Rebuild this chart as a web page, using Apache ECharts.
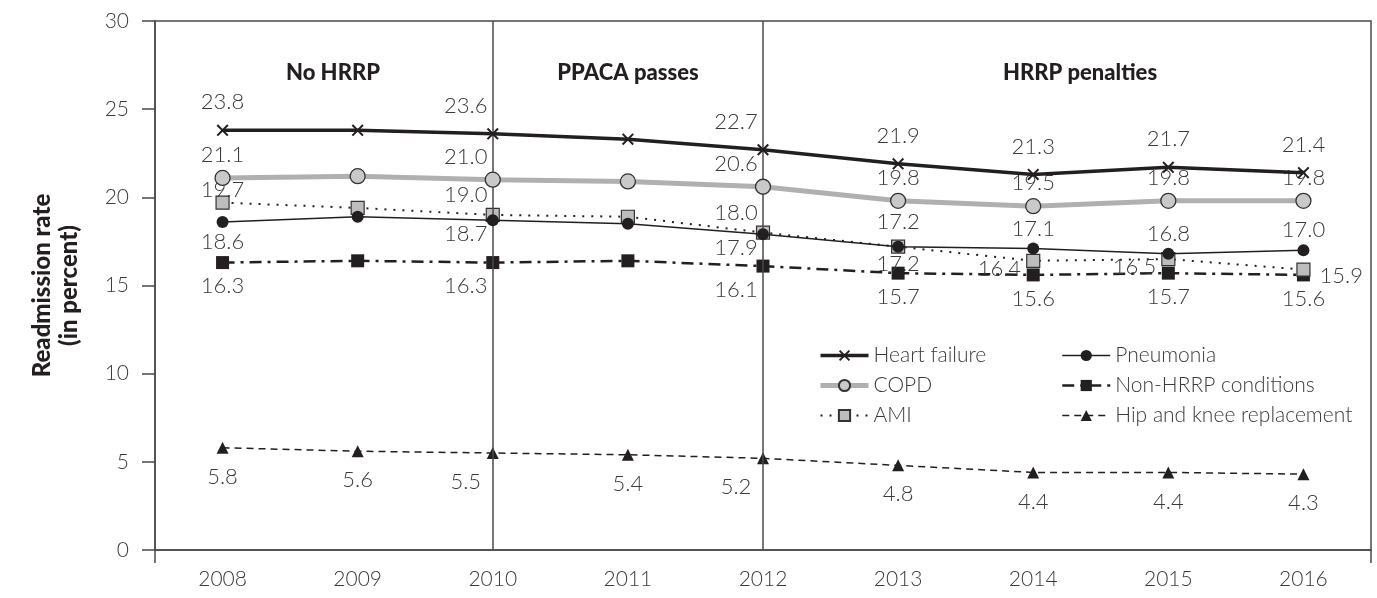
<!DOCTYPE html>
<html>
<head>
<meta charset="utf-8">
<script src="https://cdn.jsdelivr.net/npm/echarts@6/dist/echarts.min.js"></script>
<style>
html,body{margin:0;padding:0;background:#fff;}
#chart{width:1377px;height:598px;}
</style>
</head>
<body>
<div id="chart"></div>
<script>
// ---- data ----
const years = ['2008','2009','2010','2011','2012','2013','2014','2015','2016'];
const heartFailure = [23.8, 23.8, 23.6, 23.3, 22.7, 21.9, 21.3, 21.7, 21.4];
const copd         = [21.1, 21.2, 21.0, 20.9, 20.6, 19.8, 19.5, 19.8, 19.8];
const ami          = [19.7, 19.4, 19.0, 18.9, 18.0, 17.2, 16.4, 16.5, 15.9];
const pneumonia    = [18.6, 18.9, 18.7, 18.5, 17.9, 17.2, 17.1, 16.8, 17.0];
const nonHrrp      = [16.3, 16.4, 16.3, 16.4, 16.1, 15.7, 15.6, 15.7, 15.6];
const hipKnee      = [5.8, 5.6, 5.5, 5.4, 5.2, 4.8, 4.4, 4.4, 4.3];
const periods      = ['No HRRP', 'PPACA passes', 'HRRP penalties'];
const markerYears  = ['2010', '2012'];
const yTicks = {min: 0, max: 30, interval: 5};

// label placement per point (t=top, tl=top-left, b=bottom, bl=bottom-left, l=left, r=right, ''=none)
const hfPlace   = ['t','','tl','','tl','t','t','t','t'];
const copdPlace = ['t','','tl','','tl','t','t','t','t'];
const amiPlace  = ['t','','tl','','tl','b','l','l','r'];
const pneuPlace = ['b','','bl','','bl','t','t','t','t'];
const nonPlace  = ['b','','bl','','bl','b','b','b','b'];
const hipPlace  = ['b','b','bl','b','bl','b','b','b','b'];

const FONT = 'Lato, "Open Sans", sans-serif';
const TXT = '#3a3a3a';
const BLACK = '#231f20';
const AXIS = '#4a4a4a';

function build(values, place, dist, extra) {
  extra = extra || {};
  return values.map((v, i) => {
    const p = place[i];
    if (!p) return {value: v, label: {show: false}};
    const lab = {show: true, distance: dist};
    if (p === 't') lab.position = 'top';
    if (p === 'tl') { lab.position = 'top'; lab.offset = [-27, 0]; }
    if (p === 'b') lab.position = 'bottom';
    if (p === 'bl') { lab.position = 'bottom'; lab.offset = [-27, 0]; }
    if (p === 'l') { lab.position = 'left'; lab.distance = 5; lab.offset = [0, 8]; }
    if (p === 'r') { lab.position = 'right'; lab.distance = 9; lab.offset = [0, 6]; }
    if (extra[i]) Object.assign(lab, extra[i]);
    return {value: v, label: lab};
  });
}

const xPath = 'path://M0,1.2L1.2,0L5,3.8L8.8,0L10,1.2L6.2,5L10,8.8L8.8,10L5,6.2L1.2,10L0,8.8L3.8,5Z';

const labelBase = {fontFamily: FONT, fontSize: 22, fontWeight: 300, color: TXT, formatter: p => p.value.toFixed(1)};

const chart = echarts.init(document.getElementById('chart'), null, {renderer: 'canvas'});
chart.setOption({
  animation: false,
  backgroundColor: '#fff',
  textStyle: {fontFamily: FONT},
  grid: {left: 155, right: 6, top: 21, bottom: 48, show: true, borderColor: AXIS, borderWidth: 1.5, backgroundColor: 'transparent'},
  graphic: [
    {type: 'text', x: 333, y: 73, style: {text: periods[0], font: '900 22px ' + FONT, fill: BLACK, align: 'center', verticalAlign: 'middle'}},
    {type: 'text', x: 628, y: 73, style: {text: periods[1], font: '900 22px ' + FONT, fill: BLACK, align: 'center', verticalAlign: 'middle'}},
    {type: 'text', x: 1080, y: 73, style: {text: periods[2], font: '900 22px ' + FONT, fill: BLACK, align: 'center', verticalAlign: 'middle'}}
  ],
  legend: [
    {
      orient: 'vertical', left: 813, top: 340, itemWidth: 48, itemHeight: 14, itemGap: 9,
      textStyle: {fontFamily: FONT, fontSize: 21, fontWeight: 300, color: TXT},
      data: [
        {name: 'Heart failure', lineStyle: {width: 3.5}},
        {name: 'COPD', lineStyle: {width: 5}},
        {name: 'AMI', lineStyle: {width: 2}}
      ]
    },
    {
      orient: 'vertical', left: 1056, top: 340, itemWidth: 48, itemHeight: 14, itemGap: 9,
      textStyle: {fontFamily: FONT, fontSize: 21, fontWeight: 300, color: TXT},
      data: [
        {name: 'Pneumonia', lineStyle: {width: 1.5}},
        {name: 'Non-HRRP conditions', lineStyle: {width: 2.5}},
        {name: 'Hip and knee replacement', lineStyle: {width: 1.5}}
      ]
    }
  ],
  xAxis: [
    {
      type: 'category', data: years, boundaryGap: true,
      axisLine: {lineStyle: {color: AXIS, width: 1.5}},
      axisTick: {alignWithLabel: true, length: 13, lineStyle: {color: AXIS, width: 1.5}},
      axisLabel: {fontFamily: FONT, fontSize: 21, fontWeight: 300, color: TXT, margin: 19},
      splitLine: {show: false}
    },
    {
      type: 'value', min: 0, max: 1, interval: 1, position: 'bottom',
      axisLine: {show: false},
      axisTick: {show: true, length: 13, lineStyle: {color: AXIS, width: 1.5}},
      axisLabel: {show: false},
      splitLine: {show: false}
    }
  ],
  yAxis: {
    type: 'value', min: yTicks.min, max: yTicks.max, interval: yTicks.interval,
    name: 'Readmission rate\n(in percent)', nameLocation: 'middle', nameRotate: 90, nameGap: 72,
    nameTextStyle: {fontFamily: FONT, fontSize: 24, fontWeight: 900, color: BLACK, lineHeight: 27},
    axisLine: {show: true, lineStyle: {color: AXIS, width: 1.5}},
    axisTick: {show: true, length: 13, lineStyle: {color: AXIS, width: 1.5}},
    axisLabel: {fontFamily: FONT, fontSize: 21, fontWeight: 300, color: TXT, margin: 26},
    splitLine: {show: false}
  },
  series: [
    {
      name: 'Hip and knee replacement', type: 'line', z: 2,
      data: build(hipKnee, hipPlace, 12),
      symbol: 'triangle', symbolSize: 12,
      itemStyle: {color: BLACK},
      lineStyle: {color: BLACK, width: 1.5, type: [7, 5]},
      label: labelBase
    },
    {
      name: 'Non-HRRP conditions', type: 'line', z: 3,
      data: build(nonHrrp, nonPlace, 6),
      symbol: 'rect', symbolSize: 13,
      itemStyle: {color: BLACK},
      lineStyle: {color: BLACK, width: 2.5, type: [12, 6, 3, 6]},
      label: labelBase
    },
    {
      name: 'AMI', type: 'line', z: 4,
      data: build(ami, amiPlace, 2, {0: {distance: -5}, 5: {distance: -1}}),
      symbol: 'rect', symbolSize: 13,
      itemStyle: {color: '#bdbdbd', borderColor: '#333', borderWidth: 1.2},
      lineStyle: {color: BLACK, width: 2, type: [2, 7]},
      label: labelBase
    },
    {
      name: 'Pneumonia', type: 'line', z: 5,
      data: build(pneumonia, pneuPlace, 3, {2: {distance: -3}, 4: {distance: -3}, 5: {distance: 8}}),
      symbol: 'circle', symbolSize: 12,
      itemStyle: {color: BLACK},
      lineStyle: {color: BLACK, width: 1.5},
      label: labelBase
    },
    {
      name: 'COPD', type: 'line', z: 6,
      data: build(copd, copdPlace, 4),
      symbol: 'circle', symbolSize: 15,
      itemStyle: {color: '#c9c9c9', borderColor: '#333', borderWidth: 1.3},
      lineStyle: {color: '#b0b0b0', width: 5},
      label: labelBase
    },
    {
      name: 'Heart failure', type: 'line', z: 7,
      data: build(heartFailure, hfPlace, 11),
      symbol: xPath, symbolSize: 12,
      itemStyle: {color: BLACK},
      lineStyle: {color: BLACK, width: 3.5},
      label: labelBase,
      markLine: {
        silent: true, symbol: 'none', label: {show: false},
        lineStyle: {color: AXIS, width: 1.5, type: 'solid'},
        data: markerYears.map(y => ({xAxis: y}))
      }
    }
  ]
});
</script>
</body>
</html>
